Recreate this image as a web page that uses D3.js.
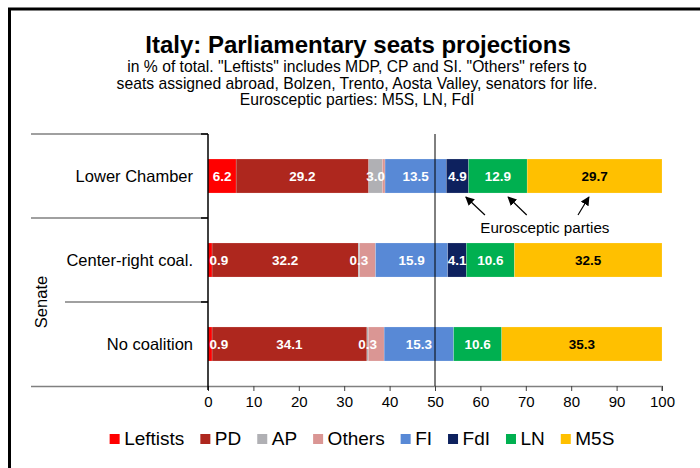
<!DOCTYPE html>
<html lang="en">
<head>
<meta charset="utf-8">
<title>Italy: Parliamentary seats projections</title>
<style>
  body { margin: 0; background: #fff; }
  svg { display: block; font-family: "Liberation Sans", Arial, sans-serif; }
  .sep { stroke: #808080; stroke-width: 1.5px; }
  .axis-x .domain { stroke: #808080; stroke-width: 1.5px; }
  .axis-x .tick line { stroke: #404040; }
  .axis-x .tick text { font-size: 15px; fill: #000; }
  .seg-label { font-size: 13.5px; font-weight: bold; }
</style>
</head>
<body>
<script src="https://d3js.org/d3.v7.min.js"></script>
<script>
  // chart data
  const categories = ["Lower Chamber", "Center-right coal.", "No coalition"];
  const parties = ["Leftists", "PD", "AP", "Others", "FI", "FdI", "LN", "M5S"];
  const partyColors = ["#ff0000", "#ae271e", "#b0b0b4", "#da9694", "#5889d6", "#0d215e", "#00b050", "#ffc000"];

  const leftists = [6.2, 0.9, 0.9];
  const pd = [29.2, 32.2, 34.1];
  const ap = [3.0, 0.3, 0.3];
  const others = [0.6, 3.5, 3.5];
  const fi = [13.5, 15.9, 15.3];
  const fdi = [4.9, 4.1, 0];
  const ln = [12.9, 10.6, 10.6];
  const m5s = [29.7, 32.5, 35.3];

  const xTicks = [0, 10, 20, 30, 40, 50, 60, 70, 80, 90, 100];

  const title = "Italy: Parliamentary seats projections";
  const subtitle = [
    "in % of total. \"Leftists\" includes MDP, CP and SI. \"Others\" refers to",
    "seats assigned abroad, Bolzen, Trento, Aosta Valley, senators for life.",
    "Eurosceptic parties: M5S, LN, FdI"
  ];
  const noteText = "Eurosceptic parties";
  // arrows: [tail value, head value] on the x scale
  const noteArrows = [[61.0, 56.8], [70.2, 66.1], [81.5, 83.9]];

  const seriesValues = [leftists, pd, ap, others, fi, fdi, ln, m5s];

  const width = 700, height = 468;

  const svg = d3.select("body").append("svg")
    .attr("width", width)
    .attr("height", height);

  // outer frame (runs off the right and bottom of the picture)
  svg.append("rect")
    .attr("x", 9.5).attr("y", 9)
    .attr("width", 760).attr("height", 520)
    .attr("fill", "none")
    .attr("stroke", "#000")
    .attr("stroke-width", 3);

  // titles
  svg.append("text")
    .attr("x", 358).attr("y", 52.5)
    .attr("text-anchor", "middle")
    .style("font-size", "24px").style("font-weight", "bold")
    .text(title);

  svg.selectAll("text.sub")
    .data(subtitle)
    .enter().append("text")
    .attr("class", "sub")
    .attr("x", 357)
    .attr("y", function(d, i) { return 72 + i * 16.6; })
    .attr("text-anchor", "middle")
    .style("font-size", "15.7px")
    .text(function(d) { return d; });

  const x = d3.scaleLinear().domain([0, 100]).range([208, 662]);
  const y = d3.scaleBand().domain(categories).range([134, 386])
    .paddingInner(0.595).paddingOuter(0.2976);

  // stack the series
  const rows = categories.map(function(c, i) {
    const row = {category: c};
    parties.forEach(function(p, j) { row[p] = seriesValues[j][i]; });
    return row;
  });
  const stacked = d3.stack().keys(parties)(rows);

  // category separators
  const bandEdges = [y.range()[0], y.range()[0] + y.step(), y.range()[0] + 2 * y.step()];
  svg.selectAll("line.sep")
    .data(bandEdges)
    .enter().append("line")
    .attr("class", "sep")
    .attr("x1", function(d, i) { return i === 2 ? 65 : 31; })
    .attr("x2", x(0))
    .attr("y1", function(d) { return d; })
    .attr("y2", function(d) { return d; });

  // x axis
  const xAxis = svg.append("g")
    .attr("class", "axis-x")
    .attr("transform", "translate(0," + y.range()[1] + ")")
    .call(d3.axisBottom(x).tickValues(xTicks).tickSize(5).tickSizeOuter(5).tickPadding(5));
  xAxis.select(".domain").attr("d", "M31,0.5H" + x(100) + "V5");

  // bars
  const layer = svg.selectAll("g.layer")
    .data(stacked)
    .enter().append("g")
    .attr("class", "layer")
    .attr("fill", function(d, i) { return partyColors[i]; });

  layer.selectAll("rect")
    .data(function(d) { return d.map(function(v) { return {v: v, key: d.key}; }); })
    .enter().append("rect")
    .attr("x", function(d) { return x(d.v[0]); })
    .attr("y", function(d) { return y(d.v.data.category); })
    .attr("width", function(d) { return x(d.v[1]) - x(d.v[0]); })
    .attr("height", y.bandwidth())
    .attr("stroke", "#fff")
    .attr("stroke-opacity", 0.35)
    .attr("stroke-width", 0.5);

  // value labels, drawn over all bars (Others is not labelled)
  const fmt = d3.format(".1f");
  const labelData = [];
  stacked.forEach(function(s) {
    if (s.key === "Others") return;
    s.forEach(function(v) {
      if (v[1] - v[0] > 0) labelData.push({v: v, key: s.key});
    });
  });
  svg.append("g").selectAll("text")
    .data(labelData)
    .enter().append("text")
    .attr("class", "seg-label")
    .attr("x", function(d) { return Math.max(x((d.v[0] + d.v[1]) / 2), x(0) + 11); })
    .attr("y", function(d) { return y(d.v.data.category) + y.bandwidth() / 2; })
    .attr("dy", "0.36em")
    .attr("text-anchor", "middle")
    .attr("fill", function(d) { return d.key === "M5S" ? "#000" : "#fff"; })
    .text(function(d) { return fmt(d.v[1] - d.v[0]); });

  // y axis line, 50% line
  svg.append("line")
    .attr("x1", x(0)).attr("x2", x(0))
    .attr("y1", y.range()[0]).attr("y2", y.range()[1] + 4)
    .attr("stroke", "#000").attr("stroke-width", 1.5);
  svg.append("line")
    .attr("x1", x(50)).attr("x2", x(50))
    .attr("y1", y.range()[0]).attr("y2", y.range()[1])
    .attr("stroke", "#000").attr("stroke-width", 1);

  svg.selectAll("line.ytick")
    .data(bandEdges)
    .enter().append("line")
    .attr("class", "ytick")
    .attr("x1", x(0) - 7).attr("x2", x(0))
    .attr("y1", function(d) { return d; }).attr("y2", function(d) { return d; })
    .attr("stroke", "#000").attr("stroke-width", 1.5);

  // category labels
  svg.selectAll("text.cat")
    .data(categories)
    .enter().append("text")
    .attr("class", "cat")
    .attr("x", 193)
    .attr("y", function(d) { return y(d) + y.bandwidth() / 2; })
    .attr("dy", "0.36em")
    .attr("text-anchor", "end")
    .style("font-size", "16.5px")
    .text(function(d) { return d; });

  // group label
  const senateMid = (y(categories[1]) - y.step() * 0.2976 + y.range()[1]) / 2;
  svg.append("text")
    .attr("transform", "translate(47," + senateMid + ") rotate(-90)")
    .attr("text-anchor", "middle")
    .style("font-size", "16.5px")
    .text("Senate");

  // annotation
  svg.append("defs").append("marker")
    .attr("id", "arrow")
    .attr("viewBox", "0 0 10 10")
    .attr("refX", 9).attr("refY", 5)
    .attr("markerWidth", 9).attr("markerHeight", 9)
    .attr("markerUnits", "userSpaceOnUse")
    .attr("orient", "auto")
    .append("path")
    .attr("d", "M0,0L10,5L0,10z")
    .attr("fill", "#000");

  const barBottom = y(categories[0]) + y.bandwidth();
  svg.selectAll("line.arrow")
    .data(noteArrows)
    .enter().append("line")
    .attr("class", "arrow")
    .attr("x1", function(d) { return x(d[0]); })
    .attr("y1", barBottom + 22)
    .attr("x2", function(d) { return x(d[1]); })
    .attr("y2", barBottom + 4)
    .attr("stroke", "#000").attr("stroke-width", 1.2)
    .attr("marker-end", "url(#arrow)");

  svg.append("text")
    .attr("x", x(74.2)).attr("y", barBottom + 39.5)
    .attr("text-anchor", "middle")
    .style("font-size", "15.2px")
    .text(noteText);

  // legend
  const legend = svg.append("g").attr("transform", "translate(0,439)");
  const items = legend.selectAll("g")
    .data(parties)
    .enter().append("g");
  items.append("rect")
    .attr("width", 10).attr("height", 10)
    .attr("y", -5)
    .attr("fill", function(d, i) { return partyColors[i]; });
  items.append("text")
    .attr("x", 14.5)
    .attr("y", 6)
    .style("font-size", "19px")
    .text(function(d) { return d; });

  let cursor = 0;
  const offsets = [];
  items.each(function() {
    offsets.push(cursor);
    cursor += 14.5 + d3.select(this).select("text").node().getComputedTextLength() + 16;
  });
  const legendStart = 362 - (cursor - 16) / 2;
  items.attr("transform", function(d, i) { return "translate(" + (legendStart + offsets[i]) + ",0)"; });
</script>
</body>
</html>
